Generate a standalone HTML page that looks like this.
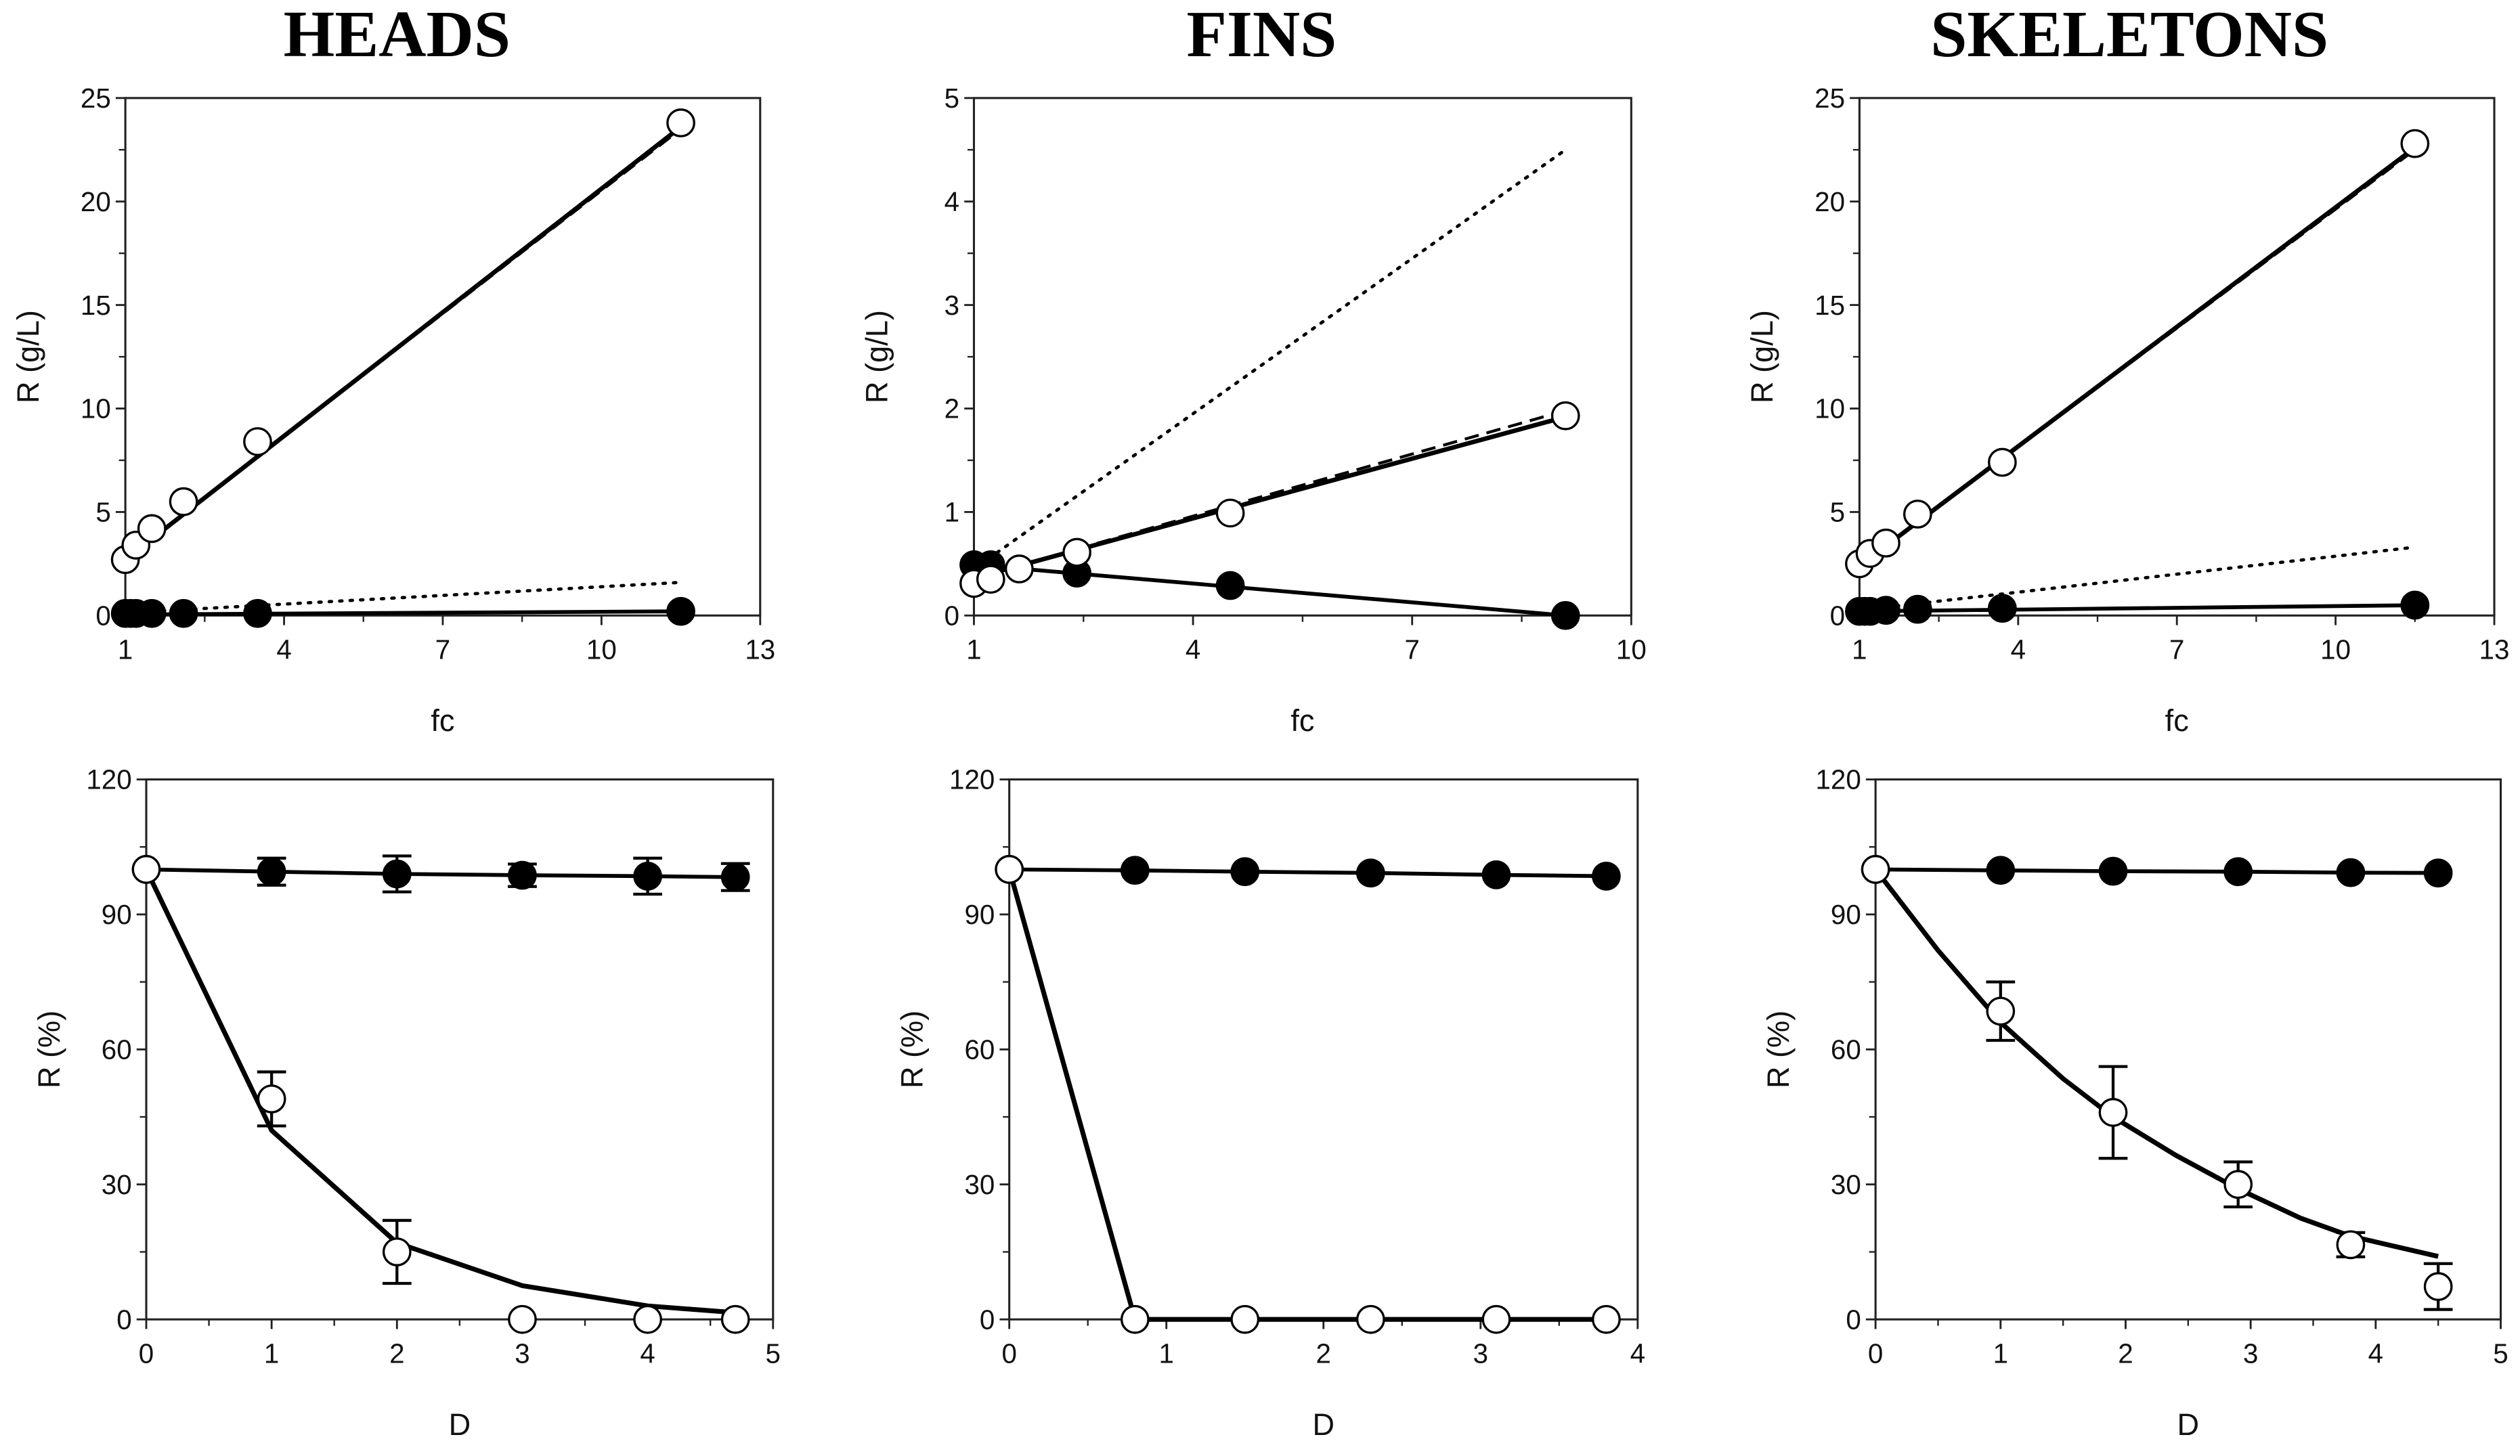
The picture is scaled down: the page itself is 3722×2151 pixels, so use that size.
<!DOCTYPE html>
<html><head><meta charset="utf-8">
<style>
html,body{margin:0;padding:0;background:#fff;}
svg{display:block;}
</style></head>
<body>
<svg id="fig" width="3722" height="2151" viewBox="0 0 1568 906" preserveAspectRatio="none" xmlns="http://www.w3.org/2000/svg">
<rect x="0" y="0" width="1568" height="906" fill="#fff"/>
</svg>
<script>
// ---------- data ----------
const headsTopOpenX = [1, 1.2, 1.5, 2.1, 3.5, 11.5];
const headsTopOpenY = [2.7, 3.4, 4.2, 5.5, 8.4, 23.8];
const headsTopFillX = [1, 1.1, 1.2, 1.5, 2.1, 3.5, 11.5];
const headsTopFillY = [0.1, 0.1, 0.1, 0.1, 0.1, 0.1, 0.2];
const headsTopFitX = [1, 11.5];
const headsTopFitY = [2.7, 23.6];
const headsTopDashY = [2.7, 23.5];
const headsTopLowY = [0.05, 0.2];
const headsTopDotX = [1.5, 11.5];
const headsTopDotY = [0.2, 1.6];

const finsTopOpenX = [1, 1.23, 1.62, 2.41, 4.51, 9.1];
const finsTopOpenY = [0.31, 0.35, 0.45, 0.61, 0.99, 1.93];
const finsTopFillX = [1, 1.23, 2.41, 4.51, 9.1];
const finsTopFillY = [0.49, 0.49, 0.41, 0.29, 0.0];
const finsTopFitX = [1.2, 9.1];
const finsTopFitY = [0.4, 1.92];
const finsTopDashY = [0.4, 1.98];
const finsTopLowY = [0.49, 0.0];
const finsTopDotX = [1.2, 9.1];
const finsTopDotY = [0.55, 4.5];

const skelTopOpenX = [1, 1.2, 1.5, 2.1, 3.7, 11.5];
const skelTopOpenY = [2.5, 3.0, 3.5, 4.9, 7.4, 22.8];
const skelTopFillX = [1, 1.1, 1.2, 1.5, 2.1, 3.7, 11.5];
const skelTopFillY = [0.2, 0.2, 0.2, 0.25, 0.3, 0.35, 0.5];
const skelTopFitX = [1, 11.5];
const skelTopFitY = [2.4, 22.6];
const skelTopDashY = [2.4, 22.5];
const skelTopLowY = [0.2, 0.5];
const skelTopDotX = [1.5, 11.5];
const skelTopDotY = [0.4, 3.3];

const headsBotFillX = [0, 1, 2, 3, 4, 4.7];
const headsBotFillY = [100, 99.5, 99, 98.7, 98.5, 98.3];
const headsBotFillErr = [0, 3, 4, 2.5, 4, 3];
const headsBotOpenX = [0, 1, 2, 3, 4, 4.7];
const headsBotOpenY = [100, 49, 15, 0, 0, 0];
const headsBotOpenErr = [0, 6, 7, 0, 0, 0];
const headsBotFitX = [0, 1, 2, 3, 4, 4.7];
const headsBotFitY = [100, 42, 17, 7.5, 3, 1.5];

const finsBotFillX = [0, 0.8, 1.5, 2.3, 3.1, 3.8];
const finsBotFillY = [100, 99.8, 99.5, 99.2, 98.8, 98.5];
const finsBotFillErr = [0, 0, 0, 0, 0, 0];
const finsBotOpenX = [0, 0.8, 1.5, 2.3, 3.1, 3.8];
const finsBotOpenY = [100, 0, 0, 0, 0, 0];
const finsBotOpenErr = [0, 0, 0, 0, 0, 0];
const finsBotFitX = [0, 0.8, 3.8];
const finsBotFitY = [100, 0, 0];

const skelBotFillX = [0, 1, 1.9, 2.9, 3.8, 4.5];
const skelBotFillY = [100, 99.8, 99.6, 99.5, 99.3, 99.2];
const skelBotFillErr = [0, 0, 0, 0, 0, 0];
const skelBotOpenX = [0, 1, 1.9, 2.9, 3.8, 4.5];
const skelBotOpenY = [100, 68.5, 46, 30, 16.6, 7.3];
const skelBotOpenErr = [0, 6.5, 10.2, 5, 2.7, 5.1];
const skelBotFitX = [0, 0.5, 1, 1.5, 1.9, 2.4, 2.9, 3.4, 3.8, 4.5];
const skelBotFitY = [100, 82, 66, 53.5, 45, 36.5, 29, 22.5, 18.5, 14];

const topXTicksA = [1, 4, 7, 10, 13];
const topXTicksB = [1, 4, 7, 10];
const topYTicks25 = [0, 5, 10, 15, 20, 25];
const topYTicks5 = [0, 1, 2, 3, 4, 5];
const botYTicks = [0, 30, 60, 90, 120];
const botXTicks5 = [0, 1, 2, 3, 4, 5];
const botXTicks4 = [0, 1, 2, 3, 4];
const titles = ["HEADS", "FINS", "SKELETONS"];

// ---------- drawing ----------
const NS = "http://www.w3.org/2000/svg";
const svg = document.getElementById("fig");
function mk(tag, attrs, parent) {
  const e = document.createElementNS(NS, tag);
  for (const k in attrs) e.setAttribute(k, attrs[k]);
  (parent || svg).appendChild(e);
  return e;
}
const FONT = '"Liberation Sans", Arial, sans-serif';

function panel(cfg) {
  const g = mk("g", {});
  
  
  const sx = v => cfg.x0 + (v - cfg.xmin) / (cfg.xmax - cfg.xmin) * (cfg.x1 - cfg.x0);
  const sy = v => cfg.y1 - (v - cfg.ymin) / (cfg.ymax - cfg.ymin) * (cfg.y1 - cfg.y0);
  const box = mk("rect", {x: cfg.x0, y: cfg.y0, width: cfg.x1 - cfg.x0, height: cfg.y1 - cfg.y0, fill: "none", stroke: "#222", "stroke-width": 1.3}, g);
  
  
  const xt = cfg.xticks;
  const xstep = xt[1] - xt[0];
  for (let i = 0; i < xt.length; i++) {
    const t = xt[i];
    mk("line", {x1: sx(t), x2: sx(t), y1: cfg.y1, y2: cfg.y1 + 6, stroke: "#222", "stroke-width": 1.2}, g);
    if (i < xt.length - 1) {
      const m = t + xstep / 2;
      mk("line", {x1: sx(m), x2: sx(m), y1: cfg.y1, y2: cfg.y1 + 4, stroke: "#222", "stroke-width": 1}, g);
    }
    const lab = mk("text", {x: sx(t), y: cfg.y1 + 27, "font-size": 17, "font-family": FONT, "text-anchor": "middle", fill: "#111"}, g);
    lab.textContent = t;
    
    
  }
  const yt = cfg.yticks;
  const ystep = yt[1] - yt[0];
  for (let i = 0; i < yt.length; i++) {
    const t = yt[i];
    mk("line", {x1: cfg.x0 - 6, x2: cfg.x0, y1: sy(t), y2: sy(t), stroke: "#222", "stroke-width": 1.2}, g);
    if (i < yt.length - 1) {
      const m = t + ystep / 2;
      mk("line", {x1: cfg.x0 - 4, x2: cfg.x0, y1: sy(m), y2: sy(m), stroke: "#222", "stroke-width": 1}, g);
    }
    const lab = mk("text", {x: cfg.x0 - 9, y: sy(t) + 6, "font-size": 17, "font-family": FONT, "text-anchor": "end", fill: "#111"}, g);
    lab.textContent = t;
    
    
  }
  const xl = mk("text", {x: (cfg.x0 + cfg.x1) / 2, y: cfg.y1 + 72, "font-size": 19, "font-family": FONT, "text-anchor": "middle", fill: "#111"}, g);
  xl.textContent = cfg.xlabel;
  
  
  const cy = (cfg.y0 + cfg.y1) / 2;
  const yl = mk("text", {x: cfg.x0 - 54, y: cy, "font-size": 19, "font-family": FONT, "text-anchor": "middle", fill: "#111", transform: "rotate(-90 " + (cfg.x0 - 54) + " " + cy + ")"}, g);
  yl.textContent = cfg.ylabel;
  
  

  function line(xs, ys, name, extra) {
    const pts = xs.map((v, i) => sx(v).toFixed(1) + "," + sy(ys[i]).toFixed(1)).join(" ");
    const a = {points: pts, fill: "none", stroke: "#000", "stroke-width": 2.6, "stroke-linejoin": "round"};
    for (const k in (extra || {})) a[k] = extra[k];
    const p = mk("polyline", a, g);
    
    
  }
  (cfg.lines || []).forEach(l => line(l.x, l.y, l.name, l.style));
  function points(xs, ys, errs, filled, name) {
    for (let i = 0; i < xs.length; i++) {
      const e = errs ? errs[i] : 0;
      if (e > 0) {
        const px = sx(xs[i]);
        const eg = mk("g", {stroke: "#000", "stroke-width": 1.8}, g);
        
        
        mk("line", {x1: px, x2: px, y1: sy(ys[i] - e), y2: sy(ys[i] + e)}, eg);
        mk("line", {x1: px - 9, x2: px + 9, y1: sy(ys[i] - e), y2: sy(ys[i] - e)}, eg);
        mk("line", {x1: px - 9, x2: px + 9, y1: sy(ys[i] + e), y2: sy(ys[i] + e)}, eg);
      }
      const c = mk("circle", {cx: sx(xs[i]), cy: sy(ys[i]), r: 8.3, fill: filled ? "#000" : "#fff", stroke: "#000", "stroke-width": 1.4}, g);
      
      
    }
  }
  (cfg.pts || []).forEach(p => points(p.x, p.y, p.err, p.filled, p.name));
}

const DOT = {"stroke-width": 2, "stroke-dasharray": "1.5 5", "stroke-linecap": "round"};
const DASH = {"stroke-width": 1.8, "stroke-dasharray": "9 5"};

panel({name: "heads-concentration-panel", x0: 78, x1: 473, y0: 61, y1: 383, xmin: 1, xmax: 13, ymin: 0, ymax: 25,
  xticks: topXTicksA, yticks: topYTicks25, xlabel: "fc", ylabel: "R (g/L)",
  lines: [
    {x: headsTopDotX, y: headsTopDotY, name: "dotted-line", style: DOT},
    {x: headsTopFitX, y: headsTopLowY, name: "filled-fit-line", style: {"stroke-width": 2.4}},
    {x: headsTopFitX, y: headsTopDashY, name: "dashed-line", style: DASH},
    {x: headsTopFitX, y: headsTopFitY, name: "open-fit-line", style: {"stroke-width": 2.8}}],
  pts: [
    {x: headsTopFillX, y: headsTopFillY, filled: true, name: "filled-point"},
    {x: headsTopOpenX, y: headsTopOpenY, filled: false, name: "open-point"}]});

panel({name: "fins-concentration-panel", x0: 606, x1: 1015, y0: 61, y1: 383, xmin: 1, xmax: 10, ymin: 0, ymax: 5,
  xticks: topXTicksB, yticks: topYTicks5, xlabel: "fc", ylabel: "R (g/L)",
  lines: [
    {x: finsTopDotX, y: finsTopDotY, name: "dotted-line", style: DOT},
    {x: [1, 9.1], y: finsTopLowY, name: "filled-fit-line", style: {"stroke-width": 2.4}},
    {x: finsTopFitX, y: finsTopDashY, name: "dashed-line", style: DASH},
    {x: finsTopFitX, y: finsTopFitY, name: "open-fit-line", style: {"stroke-width": 2.8}}],
  pts: [
    {x: finsTopFillX, y: finsTopFillY, filled: true, name: "filled-point"},
    {x: finsTopOpenX, y: finsTopOpenY, filled: false, name: "open-point"}]});

panel({name: "skeletons-concentration-panel", x0: 1157, x1: 1552, y0: 61, y1: 383, xmin: 1, xmax: 13, ymin: 0, ymax: 25,
  xticks: topXTicksA, yticks: topYTicks25, xlabel: "fc", ylabel: "R (g/L)",
  lines: [
    {x: skelTopDotX, y: skelTopDotY, name: "dotted-line", style: DOT},
    {x: skelTopFitX, y: skelTopLowY, name: "filled-fit-line", style: {"stroke-width": 2.4}},
    {x: skelTopFitX, y: skelTopDashY, name: "dashed-line", style: DASH},
    {x: skelTopFitX, y: skelTopFitY, name: "open-fit-line", style: {"stroke-width": 2.8}}],
  pts: [
    {x: skelTopFillX, y: skelTopFillY, filled: true, name: "filled-point"},
    {x: skelTopOpenX, y: skelTopOpenY, filled: false, name: "open-point"}]});

panel({name: "heads-diafiltration-panel", x0: 91, x1: 481, y0: 485, y1: 821, xmin: 0, xmax: 5, ymin: 0, ymax: 120,
  xticks: botXTicks5, yticks: botYTicks, xlabel: "D", ylabel: "R (%)",
  lines: [
    {x: headsBotFillX, y: headsBotFillY, name: "filled-line", style: {"stroke-width": 2.4}},
    {x: headsBotFitX, y: headsBotFitY, name: "open-fit-curve", style: {"stroke-width": 3}}],
  pts: [
    {x: headsBotFillX, y: headsBotFillY, err: headsBotFillErr, filled: true, name: "filled-point"},
    {x: headsBotOpenX, y: headsBotOpenY, err: headsBotOpenErr, filled: false, name: "open-point"}]});

panel({name: "fins-diafiltration-panel", x0: 628, x1: 1019, y0: 485, y1: 821, xmin: 0, xmax: 4, ymin: 0, ymax: 120,
  xticks: botXTicks4, yticks: botYTicks, xlabel: "D", ylabel: "R (%)",
  lines: [
    {x: finsBotFillX, y: finsBotFillY, name: "filled-line", style: {"stroke-width": 2.4}},
    {x: finsBotFitX, y: finsBotFitY, name: "open-fit-curve", style: {"stroke-width": 3}}],
  pts: [
    {x: finsBotFillX, y: finsBotFillY, err: finsBotFillErr, filled: true, name: "filled-point"},
    {x: finsBotOpenX, y: finsBotOpenY, err: finsBotOpenErr, filled: false, name: "open-point"}]});

panel({name: "skeletons-diafiltration-panel", x0: 1167, x1: 1556, y0: 485, y1: 821, xmin: 0, xmax: 5, ymin: 0, ymax: 120,
  xticks: botXTicks5, yticks: botYTicks, xlabel: "D", ylabel: "R (%)",
  lines: [
    {x: skelBotFillX, y: skelBotFillY, name: "filled-line", style: {"stroke-width": 2.4}},
    {x: skelBotFitX, y: skelBotFitY, name: "open-fit-curve", style: {"stroke-width": 3}}],
  pts: [
    {x: skelBotFillX, y: skelBotFillY, err: skelBotFillErr, filled: true, name: "filled-point"},
    {x: skelBotOpenX, y: skelBotOpenY, err: skelBotOpenErr, filled: false, name: "open-point"}]});

const titleX = [247, 785, 1325];
for (let i = 0; i < titles.length; i++) {
  const t = mk("text", {x: titleX[i], y: 35, "font-size": 41, "font-weight": "bold", "font-family": '"Liberation Serif", "Times New Roman", serif', "text-anchor": "middle", fill: "#000"});
  t.textContent = titles[i];
  
  
}
</script>
</body></html>
